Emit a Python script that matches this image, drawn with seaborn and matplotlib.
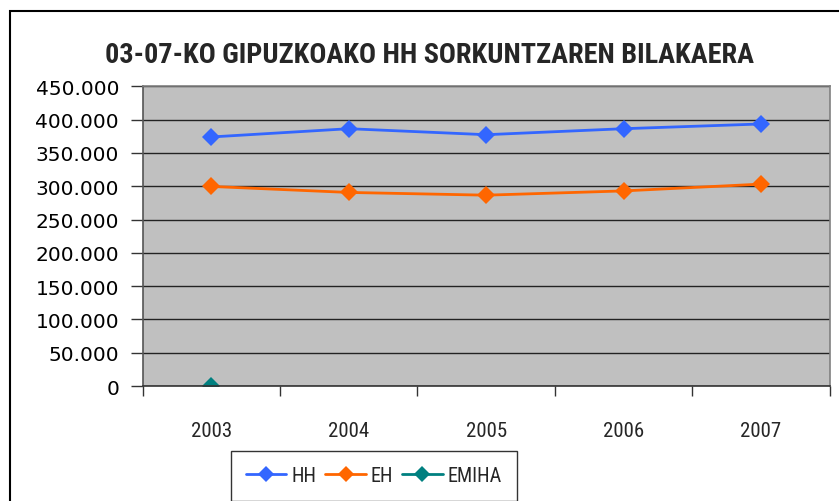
import numpy as np
import pandas as pd
import matplotlib
matplotlib.use("Agg")
import matplotlib.pyplot as plt
import seaborn as sns
from matplotlib.lines import Line2D
from matplotlib.patches import Rectangle
from matplotlib.ticker import FuncFormatter, FixedLocator

# ---------------------------------------------------------------------------
# Données
# ---------------------------------------------------------------------------
urteak = ["2003", "2004", "2005", "2006", "2007"]
hh = [374000, 386400, 377400, 386400, 393500]
eh = [299700, 290700, 286600, 293000, 303200]
emiha = [0, np.nan, np.nan, np.nan, np.nan]

series = ["HH", "EH", "EMIHA"]
koloreak = {"HH": "#3366FF", "EH": "#FF6600", "EMIHA": "#008080"}

izenburua = "03-07-KO GIPUZKOAKO HH SORKUNTZAREN BILAKAERA"

df = pd.DataFrame({
    "pos": list(range(len(urteak))) * 3,
    "balioa": hh + eh + emiha,
    "seriea": [s for s in series for _ in urteak],
})

sns.set_theme(style="white")
narrow = ["Roboto Condensed", "DejaVu Sans"]
plt.rcParams["font.family"] = ["DejaVu Sans"]

fig = plt.figure(figsize=(8.39, 5.02), dpi=100)
ax = fig.add_axes([0.170, 0.229, 0.819, 0.597])
ax.set_facecolor("#C0C0C0")

sns.lineplot(
    data=df, x="pos", y="balioa", hue="seriea", style="seriea",
    markers=["D", "D", "D"], dashes=False, palette=koloreak,
    markersize=9, markeredgewidth=0, linewidth=2, legend=False, ax=ax,
)

ax.set_xlim(-0.5, len(urteak) - 0.5)
ax.set_ylim(0, 450000)
ax.set_yticks(np.arange(0, 450001, 50000))
ax.yaxis.set_major_formatter(
    FuncFormatter(lambda v, p: f"{int(v):,}".replace(",", "."))
)
ax.grid(axis="y", color="#222222", linewidth=1)
ax.set_axisbelow(True)

# x: marques entre les catégories, étiquettes au centre
ax.xaxis.set_major_locator(FixedLocator(np.arange(-0.5, len(urteak), 1.0)))
ax.set_xticklabels([])
ax.set_xticks(np.arange(len(urteak)), minor=True)
ax.set_xticklabels(urteak, minor=True, fontfamily=narrow, fontsize=15)
ax.tick_params(axis="x", which="major", length=7, width=1, color="#333333",
               direction="out", bottom=True)
ax.tick_params(axis="x", which="minor", length=0, pad=25)
ax.tick_params(axis="y", length=9, width=1, color="#333333", direction="out",
               left=True, pad=8, labelsize=14.5, labelcolor="black")

for s in ["left", "right", "top", "bottom"]:
    ax.spines[s].set_visible(True)
    ax.spines[s].set_color("#808080")
    ax.spines[s].set_linewidth(1.2)
ax.spines["left"].set_color("#555555")
ax.spines["bottom"].set_color("#333333")
ax.set_xlabel("")
ax.set_ylabel("")

fig.text(0.512, 0.890, izenburua, ha="center", va="center",
         fontsize=20.3, fontweight="bold", family=narrow)

handles = [
    Line2D([], [], color=koloreak[s], marker="D", markersize=8,
           markeredgewidth=0, linewidth=2, label=s)
    for s in series
]
leg = fig.legend(handles=handles, loc="center", ncol=3,
                 bbox_to_anchor=(374 / 839, 1 - 477 / 502),
                 frameon=True, fancybox=False, edgecolor="black",
                 prop={"family": narrow, "size": 14.5},
                 handlelength=2.0, handletextpad=0.25, columnspacing=0.45,
                 borderpad=0.75)
leg.get_frame().set_linewidth(1)

# cadre de la figure
fig.patches.append(Rectangle((10 / 839, -0.05), 1.2, 1 - 12 / 502 + 0.05,
                             transform=fig.transFigure, fill=False,
                             edgecolor="black", linewidth=1.5))

fig.savefig("out.png", dpi=100, facecolor="white")
